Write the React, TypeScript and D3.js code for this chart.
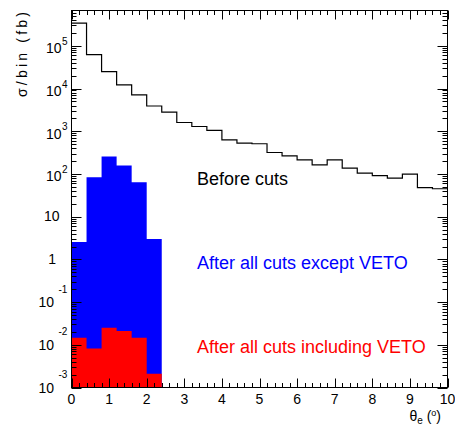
import React, { useEffect, useRef } from 'react';
import * as d3 from 'd3';

// bin edges: 25 bins of 0.4 in theta_e
const binWidth = 0.4;
const beforeCuts = [
  3.4e5, 6.2e4, 2.5e4, 1.22e4, 7.1e3, 3.9e3, 2.8e3, 1.6e3, 1.29e3, 1.05e3,
  630, 527, 510, 318, 266, 214, 164, 214, 137, 105, 91, 80, 99, 48, 45,
];
const exceptVeto = [2.54, 84, 256, 158, 64, 2.98];
const includingVeto = [0.0146, 0.0082, 0.025, 0.0209, 0.0146, 0.0021];

const xTickValues = [0, 1, 2, 3, 4, 5, 6, 7, 8, 9, 10];
const yTickExps = [-3, -2, -1, 0, 1, 2, 3, 4, 5];

const W = 455,
  H = 431;
const margin = { left: 71.5, right: 447.5, top: 10.5, bottom: 387.5 };
const font = 'Liberation Sans, Arial, Helvetica, sans-serif';

const App = () => {
  const ref = useRef<SVGSVGElement>(null);

  useEffect(() => {
    const svg = d3.select(ref.current);
    svg.selectAll('*').remove();

    const x = d3.scaleLinear().domain([0, 10]).range([margin.left, margin.right]);
    const y = d3
      .scaleLog()
      .domain([1e-3, Math.pow(10, 5.827)])
      .range([margin.bottom, margin.top]);

    const stepPoints = (vals: number[]) => {
      const pts = vals.map((v, i) => [i * binWidth, v] as [number, number]);
      pts.push([vals.length * binWidth, vals[vals.length - 1]]);
      return pts;
    };

    // filled histograms
    const area = d3
      .area<[number, number]>()
      .x((d) => x(d[0]))
      .y0(y(1e-3))
      .y1((d) => y(d[1]))
      .curve(d3.curveStepAfter);

    svg.append('path').datum(stepPoints(exceptVeto)).attr('d', area).attr('fill', '#0000ff');
    svg.append('path').datum(stepPoints(includingVeto)).attr('d', area).attr('fill', '#ff0000');

    // before cuts outline
    const line = d3
      .line<[number, number]>()
      .x((d) => x(d[0]))
      .y((d) => y(d[1]))
      .curve(d3.curveStepAfter);
    svg
      .append('path')
      .datum(stepPoints(beforeCuts))
      .attr('d', line)
      .attr('fill', 'none')
      .attr('stroke', 'black')
      .attr('stroke-width', 1.2);

    // frame
    svg
      .append('rect')
      .attr('x', margin.left)
      .attr('y', margin.top)
      .attr('width', margin.right - margin.left)
      .attr('height', margin.bottom - margin.top)
      .attr('fill', 'none')
      .attr('stroke', 'black');

    const ticks = svg.append('g').attr('stroke', 'black').attr('stroke-width', 1);

    // x ticks, bottom and top
    for (let i = 0; i <= 50; i++) {
      const v = i * 0.2;
      const len = i % 5 === 0 ? 9 : 4.5;
      const px = Math.round(x(v)) + 0.5;
      ticks.append('line').attr('x1', px).attr('x2', px).attr('y1', margin.bottom).attr('y2', margin.bottom - len);
      ticks.append('line').attr('x1', px).attr('x2', px).attr('y1', margin.top).attr('y2', margin.top + len);
    }

    // y ticks, left and right
    const [y0, y1] = y.domain();
    for (let e = -3; e <= 5; e++) {
      for (let m = 1; m <= 9; m++) {
        const v = m * Math.pow(10, e);
        if (v < y0 || v > y1) continue;
        const len = m === 1 ? 10 : 5;
        const py = Math.round(y(v)) + 0.5;
        ticks.append('line').attr('x1', margin.left).attr('x2', margin.left + len).attr('y1', py).attr('y2', py);
        ticks.append('line').attr('x1', margin.right).attr('x2', margin.right - len).attr('y1', py).attr('y2', py);
      }
    }

    // x tick labels
    svg
      .append('g')
      .selectAll('text')
      .data(xTickValues)
      .enter()
      .append('text')
      .attr('x', (d) => x(d))
      .attr('y', 404)
      .attr('text-anchor', 'middle')
      .attr('font-family', font)
      .attr('font-size', 14)
      .text((d) => d);

    // y tick labels, ROOT style 10^n
    const yl = svg.append('g').attr('font-family', font);
    yTickExps.forEach((e) => {
      const ty = y(Math.pow(10, e));
      if (e === 0) {
        yl.append('text').attr('x', 56).attr('y', ty + 4.5).attr('text-anchor', 'end').attr('font-size', 14).text('1');
      } else if (e === 1) {
        yl.append('text').attr('x', 59.5).attr('y', ty + 4.5).attr('text-anchor', 'end').attr('font-size', 14).text('10');
      } else if (e > 1) {
        yl.append('text').attr('x', 61.5).attr('y', ty + 7.5).attr('text-anchor', 'end').attr('font-size', 14).text('10');
        yl.append('text').attr('x', 62).attr('y', ty - 1).attr('font-size', 10).text(e);
      } else {
        yl.append('text').attr('x', 54).attr('y', ty + 5).attr('text-anchor', 'end').attr('font-size', 14).text('10');
        yl.append('text').attr('x', 58.5).attr('y', ty - 9.5).attr('font-size', 10).text(e);
      }
    });

    // axis titles
    const xt = svg
      .append('text')
      .attr('x', 441)
      .attr('y', 421)
      .attr('text-anchor', 'end')
      .attr('font-family', font)
      .attr('font-size', 14);
    xt.append('tspan').text('θ');
    xt.append('tspan').attr('font-size', 10).attr('dy', 3).text('e');
    xt.append('tspan').attr('dy', -3).text(' (');
    xt.append('tspan').attr('font-size', 9).attr('dy', -5).text('o');
    xt.append('tspan').attr('dy', 5).text(')');

    svg
      .append('text')
      .attr('transform', 'translate(27,12) rotate(-90)')
      .attr('text-anchor', 'end')
      .attr('font-family', font)
      .attr('font-size', 14)
      .attr('textLength', 85)
      .attr('lengthAdjust', 'spacing')
      .text('σ/bin (fb)');

    // legend texts
    const legend = [
      { label: 'Before cuts', color: 'black', y: 185 },
      { label: 'After all cuts except VETO', color: '#0000ff', y: 269 },
      { label: 'After all cuts including VETO', color: '#ff0000', y: 353 },
    ];
    svg
      .append('g')
      .selectAll('text')
      .data(legend)
      .enter()
      .append('text')
      .attr('x', 197)
      .attr('y', (d) => d.y)
      .attr('fill', (d) => d.color)
      .attr('font-family', font)
      .attr('font-size', 18)
      .text((d) => d.label);
  }, []);

  return (
    <div>
      <style>{`body{margin:0;background:#fff}`}</style>
      <svg ref={ref} width={W} height={H} style={{ display: 'block' }}></svg>
    </div>
  );
};

export default App;
